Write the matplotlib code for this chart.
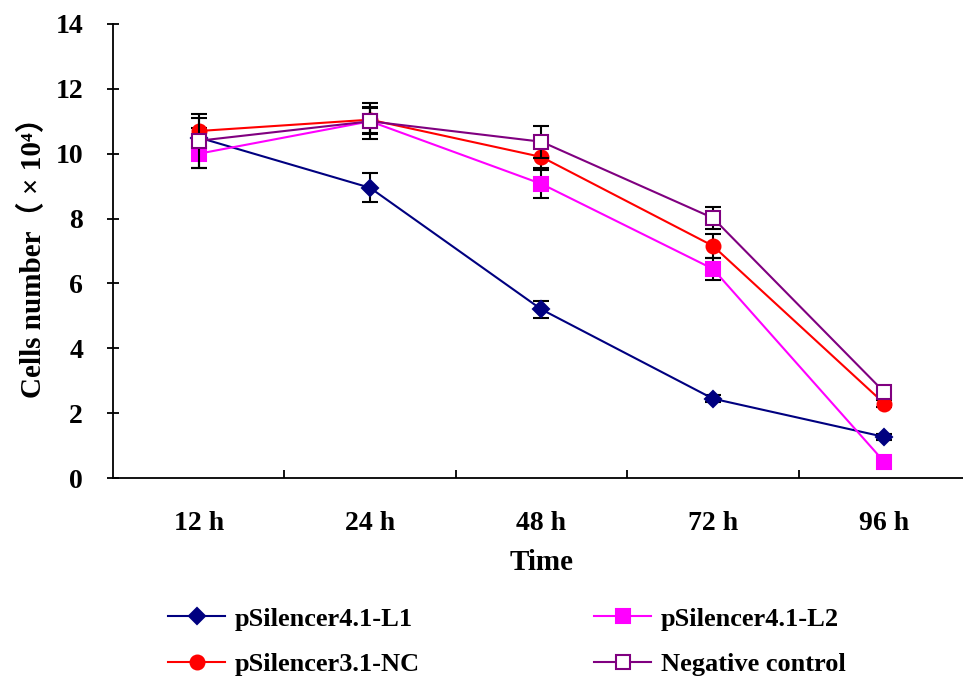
import numpy as np
import matplotlib
matplotlib.use("Agg")
import matplotlib.pyplot as plt

plt.rcParams['font.family'] = ['Liberation Serif', 'Noto Sans CJK SC', 'DejaVu Sans']
plt.rcParams['font.weight'] = 'bold'

# Dados
tempos = ["12 h", "24 h", "48 h", "72 h", "96 h"]
l1 = [10.5, 8.95, 5.2, 2.45, 1.27]
l2 = [10.0, 11.0, 9.07, 6.45, 0.5]
nc = [10.7, 11.05, 9.9, 7.16, 2.3]
neg = [10.4, 11.0, 10.37, 8.02, 2.65]

l1_err = [0.3, 0.45, 0.25, 0.1, 0.1]
l2_err = [0.45, 0.4, 0.43, 0.33, 0.05]
nc_err = [0.4, 0.4, 0.35, 0.37, 0.1]
neg_err = [0.83, 0.55, 0.5, 0.35, 0.1]

fig = plt.figure(figsize=(9.63, 6.85), dpi=100)
ax = fig.add_axes([0.1173, 0.302, 0.89, 0.663])

x = np.arange(len(tempos))

series = [
    ("pSilencer4.1-L1", l1, l1_err, "#000080", "D", 8, "#000080"),
    ("pSilencer3.1-NC", nc, nc_err, "#FF0000", "o", 10, "#FF0000"),
    ("pSilencer4.1-L2", l2, l2_err, "#FF00FF", "s", 10, "#FF00FF"),
    ("Negative control", neg, neg_err, "#800080", "s", 10, "white"),
]

handles = []
for i, (nome, vals, err, cor, mk, ms, face) in enumerate(series):
    ax.errorbar(x, vals, yerr=err, fmt="none", ecolor="black", elinewidth=1.5,
                capsize=5.5, capthick=1.5, zorder=2 + i)
    h, = ax.plot(x, vals, color=cor, lw=1.5, marker=mk, markersize=ms,
                 markerfacecolor=face, markeredgecolor=cor, markeredgewidth=1.5,
                 label=nome, zorder=3 + i)
    handles.append(h)

ax.set_xlim(-0.5, len(tempos) - 0.5)
ax.set_ylim(0, 14)
ax.set_yticks(range(0, 15, 2))
ax.set_xticks(x)
ax.set_xticklabels(tempos)
ax.set_xticks(np.arange(0.5, len(tempos) - 1, 1), minor=True)
ax.tick_params(axis="x", which="major", length=0, pad=24, labelsize=20)
ax.tick_params(axis="x", which="minor", direction="in", length=6, width=1.3)
ax.tick_params(axis="y", direction="inout", length=9, width=1.3, labelsize=20, pad=17)

for s in ["top", "right"]:
    ax.spines[s].set_visible(False)
for s in ["left", "bottom"]:
    ax.spines[s].set_linewidth(1.3)

ax.set_xlabel("Time", fontsize=21, fontweight="bold", labelpad=9)
ax.set_ylabel("Cells number（ × 10⁴）", fontsize=21, fontweight="bold", labelpad=6)

fig.legend(handles=handles, loc="upper left", bbox_to_anchor=(0.161, 0.133),
           ncol=2, frameon=False, fontsize=19, columnspacing=6.6, borderpad=0,
           handlelength=2.15, handletextpad=0.38, labelspacing=0.85)

plt.savefig("out.png", dpi=100)
